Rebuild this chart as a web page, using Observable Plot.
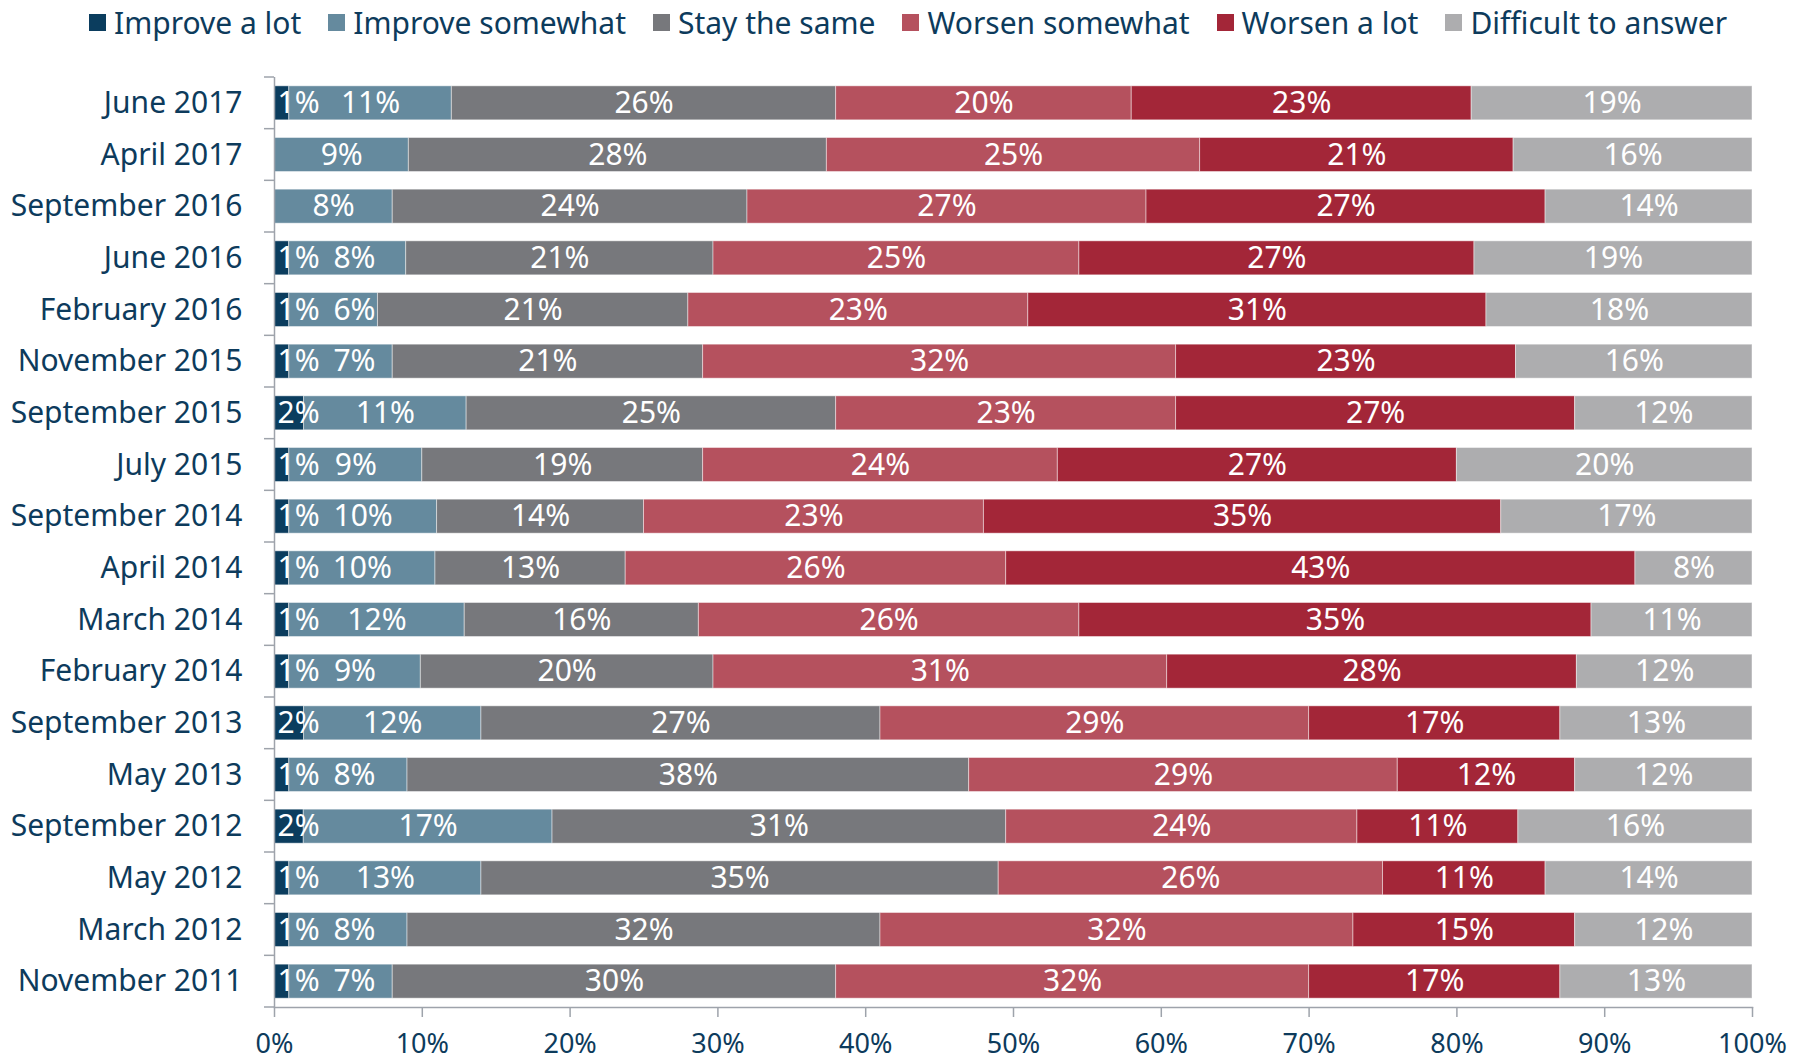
<!DOCTYPE html>
<html>
<head>
<meta charset="utf-8">
<script src="https://cdn.jsdelivr.net/npm/d3@7"></script>
<script src="https://cdn.jsdelivr.net/npm/@observablehq/plot@0.6"></script>
<style>
  html, body { margin: 0; padding: 0; background: #fff; overflow: hidden; }
  #legend { height: 44px; margin-bottom: 6px; display: flex; align-items: center; padding-left: 89px; gap: 27px;
            font-family: "Noto Sans", sans-serif; font-size: 30px; color: #0d3b5c; white-space: nowrap; }
  #legend .item { display: flex; align-items: center; }
  #legend .sw { width: 17px; height: 17px; margin-right: 8px; display: inline-block; }
  #chart svg { display: block; }
</style>
</head>
<body>
<div id="legend"></div>
<div id="chart"></div>
<script>
const dates = ["June 2017", "April 2017", "September 2016", "June 2016", "February 2016", "November 2015",
  "September 2015", "July 2015", "September 2014", "April 2014", "March 2014", "February 2014",
  "September 2013", "May 2013", "September 2012", "May 2012", "March 2012", "November 2011"];
const categories = ["Improve a lot", "Improve somewhat", "Stay the same", "Worsen somewhat", "Worsen a lot", "Difficult to answer"];
const colors = ["#0b3d5e", "#658a9e", "#77787c", "#b5515e", "#a32638", "#adadaf"];

const improveALot     = [1, 0, 0, 1, 1, 1, 2, 1, 1, 1, 1, 1, 2, 1, 2, 1, 1, 1];
const improveSomewhat = [11, 9, 8, 8, 6, 7, 11, 9, 10, 10, 12, 9, 12, 8, 17, 13, 8, 7];
const stayTheSame     = [26, 28, 24, 21, 21, 21, 25, 19, 14, 13, 16, 20, 27, 38, 31, 35, 32, 30];
const worsenSomewhat  = [20, 25, 27, 25, 23, 32, 23, 24, 23, 26, 26, 31, 29, 29, 24, 26, 32, 32];
const worsenALot      = [23, 21, 27, 27, 31, 23, 27, 27, 35, 43, 35, 28, 17, 12, 11, 11, 15, 17];
const difficult       = [19, 16, 14, 19, 18, 16, 12, 20, 17, 8, 11, 12, 13, 12, 16, 14, 12, 13];

const series = [improveALot, improveSomewhat, stayTheSame, worsenSomewhat, worsenALot, difficult];
const rows = dates.flatMap((date, i) =>
  categories.map((category, j) => ({date, category, value: series[j][i], lot: improveALot[i]})));

const navy = "#0d3b5c";
const axisGray = "#9ea3ab";

// legend
const legend = document.getElementById("legend");
categories.forEach((c, i) => {
  const item = document.createElement("span");
  item.className = "item";
  const sw = document.createElement("span");
  sw.className = "sw";
  sw.style.background = colors[i];
  item.appendChild(sw);
  item.appendChild(document.createTextNode(c));
  legend.appendChild(item);
});

// ticks at band boundaries on the y axis
function bandBoundaryTicks(index, scales, values, dims) {
  const top = dims.marginTop, bottom = dims.height - dims.marginBottom;
  const n = dates.length, step = (bottom - top) / n;
  const g = d3.create("svg:g").attr("stroke", axisGray).attr("stroke-width", 1.5);
  for (let i = 0; i <= n; i++) {
    const yy = top + i * step;
    g.append("line").attr("x1", dims.marginLeft - 10).attr("x2", dims.marginLeft).attr("y1", yy).attr("y2", yy);
  }
  return g.node();
}

const labelText = d => d.value ? d.value + "%" : null;

// keep narrow "Improve somewhat" labels clear of the small "Improve a lot" label
function avoidSmallLabel(index, scales, values, dims, context, next) {
  const X = Array.from(values.x);
  const x0 = scales.x(0);
  for (const i of index) {
    if (rows[i].category === categories[1] && rows[i].lot > 0) X[i] = Math.max(X[i], x0 + 80);
  }
  return next(index, scales, {...values, x: X}, dims, context);
}

const chart = Plot.plot({
  width: 1793,
  height: 1011,
  marginLeft: 274,
  marginRight: 41,
  marginTop: 27,
  marginBottom: 54,
  style: {fontFamily: "Noto Sans, sans-serif", fontSize: "30px", color: navy, background: "#fff"},
  x: {domain: [0, 1], axis: null, label: null},
  y: {domain: dates, paddingInner: 0.342, paddingOuter: 0.171, round: false, axis: null, label: null},
  color: {domain: categories, range: colors},
  marks: [
    Plot.barX(rows, Plot.stackX({x: "value", y: "date", fill: "category", z: "category", offset: "normalize",
      stroke: "#ffffff", strokeOpacity: 0.45, strokeWidth: 1})),
    Plot.text(rows, Plot.stackX({x: "value", y: "date", z: "category", offset: "normalize",
      text: d => d.category === categories[0] ? null : labelText(d),
      fill: "white", fontSize: 30, render: avoidSmallLabel})),
    Plot.text(rows, Plot.stackX1({x: "value", y: "date", z: "category", offset: "normalize",
      text: d => d.category === categories[0] ? labelText(d) : null,
      textAnchor: "start", dx: 3, fill: "white", fontSize: 30})),
    Plot.ruleX([0], {stroke: axisGray, strokeWidth: 1.5}),
    Plot.frame({anchor: "bottom", stroke: axisGray, strokeWidth: 1.5}),
    bandBoundaryTicks,
    Plot.axisY({tickSize: 0, tickPadding: 32, fontSize: 30, fill: navy, label: null}),
    Plot.axisX({ticks: 10, tickSize: 10, tickPadding: 16, tickFormat: d3.format(".0%"), fontSize: 27,
      stroke: axisGray, strokeWidth: 1.5, fill: navy, label: null})
  ]
});
document.getElementById("chart").appendChild(chart);
</script>
</body>
</html>
